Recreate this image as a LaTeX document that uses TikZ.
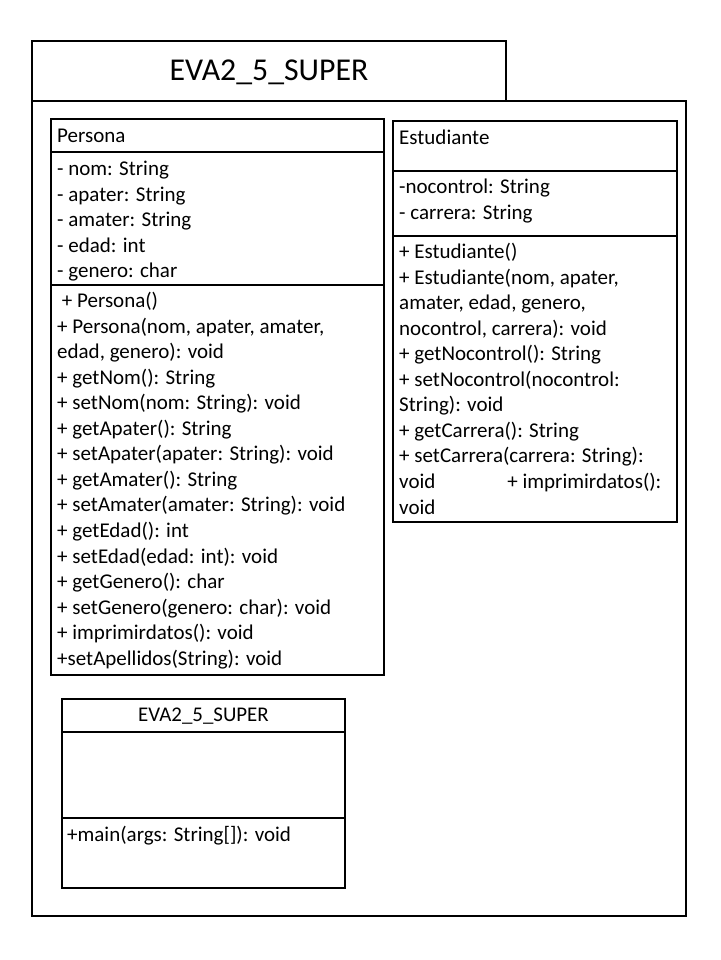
\documentclass[tikz,border=0pt]{standalone}
\usepackage{fontspec}
\setmainfont{Carlito}
\begin{document}
\begin{tikzpicture}[x=1pt,y=-1pt,
  box/.style={draw=black,line width=1.3pt},
  txt/.style={anchor=north west,align=left,inner sep=0pt,font=\fontsize{21}{25.55}\selectfont},
  hdr/.style={inner sep=0pt,font=\fontsize{21}{25}\selectfont}]
\useasboundingbox[fill=white] (0,0) rectangle (720,960);
% package
\draw[box] (32,41) rectangle (506,101);
\draw[box] (32,101) rectangle (686,916);
\node[inner sep=0pt,font=\fontsize{31.8}{36}\selectfont] (title) at (269,72) {EVA2\_5\_SUPER};
% Persona
\draw[box] (51,119) rectangle (384,675);
\draw[box] (51,152) -- (384,152);
\draw[box] (51,285) -- (384,285);
\node[hdr,anchor=west] (pname) at (57,135.5) {Persona};
\node[txt] (pattr) at (57,161) {- nom: String\\- apater: String\\- amater: String\\- edad: int\\- genero: char};
\node[txt] (pmeth) at (57,292) {\ + Persona()\\+ Persona(nom, apater, amater,\\edad, genero): void\\+ getNom(): String\\+ setNom(nom: String): void\\+ getApater(): String\\+ setApater(apater: String): void\\+ getAmater(): String\\+ setAmater(amater: String): void\\+ getEdad(): int\\+ setEdad(edad: int): void\\+ getGenero(): char\\+ setGenero(genero: char): void\\+ imprimirdatos(): void\\+setApellidos(String): void};
% Estudiante
\draw[box] (393,121) rectangle (677,522);
\draw[box] (393,171) -- (677,171);
\draw[box] (393,236) -- (677,236);
\node[hdr,anchor=west] (ename) at (399,137.5) {Estudiante};
\node[txt] (eattr) at (399,179) {-nocontrol: String\\- carrera: String};
\node[txt] (emeth) at (399,243) {+ Estudiante()\\+ Estudiante(nom, apater,\\amater, edad, genero,\\nocontrol, carrera): void\\+ getNocontrol(): String\\+ setNocontrol(nocontrol:\\String): void\\+ getCarrera(): String\\+ setCarrera(carrera: String):\\void\hspace*{72pt}+ imprimirdatos():\\void};
% Main class
\draw[box] (62,699) rectangle (345,888);
\draw[box] (62,732) -- (345,732);
\draw[box] (62,818) -- (345,818);
\node[inner sep=0pt,font=\fontsize{20.9}{24}\selectfont] (mname) at (203.5,716) {EVA2\_5\_SUPER};
\node[txt] (mmeth) at (67,826) {+main(args: String[]): void};
\end{tikzpicture}
\end{document}
